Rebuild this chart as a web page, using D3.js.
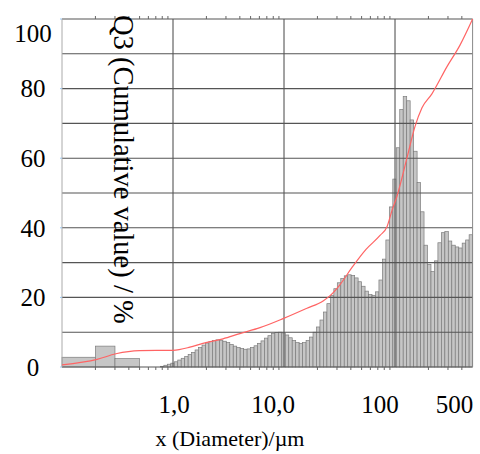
<!DOCTYPE html>
<html>
<head>
<meta charset="utf-8">
<script src="https://cdn.jsdelivr.net/npm/d3@7"></script>
<style>
body{margin:0;background:#fff;}
text{font-family:"Liberation Serif","Times New Roman",serif;fill:#000;}
</style>
</head>
<body>
<script>
// wide classes below 0.5 um
const wideEdges=[0.1,0.2,0.3,0.5];
const wideVals=[2.8,6.0,2.4];
// narrow classes 0.5..500 um, 32 per decade
const narrowStart=0.5, perDecade=32;
const narrowVals=[
 0,0,0,0,0,0,0.2,0.5,0.8,1.1,
 1.5,2.0,2.5,3.0,3.6,4.2,4.9,5.6,6.3,6.9,
 7.3,7.6,7.8,7.7,7.4,7.0,6.5,6.0,5.6,5.3,
 5.1,5.2,5.6,6.1,6.8,7.5,8.3,9.0,9.6,9.9,
 10.0,9.8,9.2,8.4,7.6,7.0,6.8,7.0,7.6,8.6,
 10.0,11.5,13.5,15.8,18.2,20.5,22.5,24.2,25.4,26.2,
 26.5,26.3,25.6,24.5,23.2,21.8,20.8,20.6,21.6,25,
 31,36.5,46,54,63,74,77.7,76.5,71,62,
 53,44.6,35,29.5,27.4,30.5,35.7,38.6,38.9,36.2,
 35,34.5,34.2,35.6,36.5,38];
// cumulative Q3
const cumD=[0.1,0.207,0.306,0.5,1.0,1.42,1.86,2.82,4.0,6.08,9.8,16.1,22.5,26,32,41,54.8,73.3,84.7,94,104,128,151,175,215,294,385,500];
const cumQ=[0.6,2.2,3.8,4.7,4.8,5.7,6.8,8.1,9.6,11.3,13.9,16.9,19.0,20.5,23.7,28.6,33.8,37.8,40.3,45,49,60,69,74.5,78.5,86.3,92.5,100];
const yTicks=[0,20,40,60,80,100];
const yGrid=[0,10,20,30,40,50,60,70,80,90,100];
const xMajor=[1,10,100];
const xTicks=[1,10,100,500];
const xTickLabels=["1,0","10,0","100","500"];
const xLabelShift=[1,-11,-15,-18];

const W=480,H=454;
const L=62,R=472.6,T=19,B=367;
const svg=d3.select("body").append("svg").attr("width",W).attr("height",H);
const x=d3.scaleLog().domain([0.1,500]).range([L,R]);
const y=d3.scaleLinear().domain([0,100]).range([B,T]);

// bins
let bins=[];
for(let i=0;i<wideVals.length;i++) bins.push({x0:wideEdges[i],x1:wideEdges[i+1],v:wideVals[i]});
narrowVals.forEach((v,i)=>{
  bins.push({x0:narrowStart*Math.pow(10,i/perDecade),x1:narrowStart*Math.pow(10,(i+1)/perDecade),v:v});
});
svg.append("g").selectAll("rect").data(bins).enter().append("rect")
  .attr("x",d=>x(d.x0)).attr("width",d=>x(d.x1)-x(d.x0))
  .attr("y",d=>y(d.v)).attr("height",d=>B-y(d.v))
  .attr("fill","#c6c6c6").attr("stroke","#7c7c7c").attr("stroke-width",0.7);

// grid
const g=svg.append("g").attr("stroke","#555").attr("stroke-width",1.1);
g.selectAll(".h").data(yGrid).enter().append("line")
  .attr("x1",L).attr("x2",R).attr("y1",d=>y(d)).attr("y2",d=>y(d));
g.selectAll(".v").data(xMajor).enter().append("line")
  .attr("x1",d=>x(d)).attr("x2",d=>x(d)).attr("y1",T).attr("y2",B);
svg.append("line").attr("x1",L).attr("x2",L).attr("y1",T).attr("y2",B).attr("stroke","#aaa");
svg.append("line").attr("x1",R).attr("x2",R).attr("y1",T).attr("y2",B).attr("stroke","#888");

// minor ticks top and bottom
const minor=x.ticks().filter(d=>d>0.1&&d<500&&xMajor.indexOf(d)<0);
svg.append("g").selectAll("line").data(minor).enter().append("line")
  .attr("x1",d=>x(d)).attr("x2",d=>x(d)).attr("y1",B).attr("y2",B+3).attr("stroke","#666");
svg.append("g").selectAll("line").data(minor).enter().append("line")
  .attr("x1",d=>x(d)).attr("x2",d=>x(d)).attr("y1",T).attr("y2",T-3).attr("stroke","#666");
// small left ticks
svg.append("g").selectAll("line").data(yTicks).enter().append("line")
  .attr("x1",L-2).attr("x2",L).attr("y1",d=>y(d)).attr("y2",d=>y(d)).attr("stroke","#9cc8f0");

// cumulative line
const line=d3.line().x((d,i)=>x(cumD[i])).y(d=>y(d)).curve(d3.curveMonotoneX);
svg.append("path").datum(cumQ).attr("d",line)
  .attr("fill","none").attr("stroke","#ff6464").attr("stroke-width",1.2);

// y tick labels
svg.append("g").selectAll("text").data(yTicks).enter().append("text")
  .attr("x",33).attr("y",d=>y(d)).attr("dy","0.35em")
  .attr("transform",d=>d===100?"translate(0,14)":null)
  .attr("text-anchor","middle").attr("font-size",25).text(d=>d);

// x tick labels
svg.append("g").selectAll("text").data(xTicks).enter().append("text")
  .attr("x",(d,i)=>x(d)+xLabelShift[i]).attr("y",413)
  .attr("text-anchor","middle").attr("font-size",25).text((d,i)=>xTickLabels[i]);

// axis titles
svg.append("text").attr("x",230).attr("y",446).attr("text-anchor","middle")
  .attr("font-size",22).text("x (Diameter)/\u00b5m");
svg.append("text").attr("transform","translate(114,15) rotate(90)")
  .attr("font-size",28.5).text("Q3 (Cumulative value) / %");
</script>
</body>
</html>
